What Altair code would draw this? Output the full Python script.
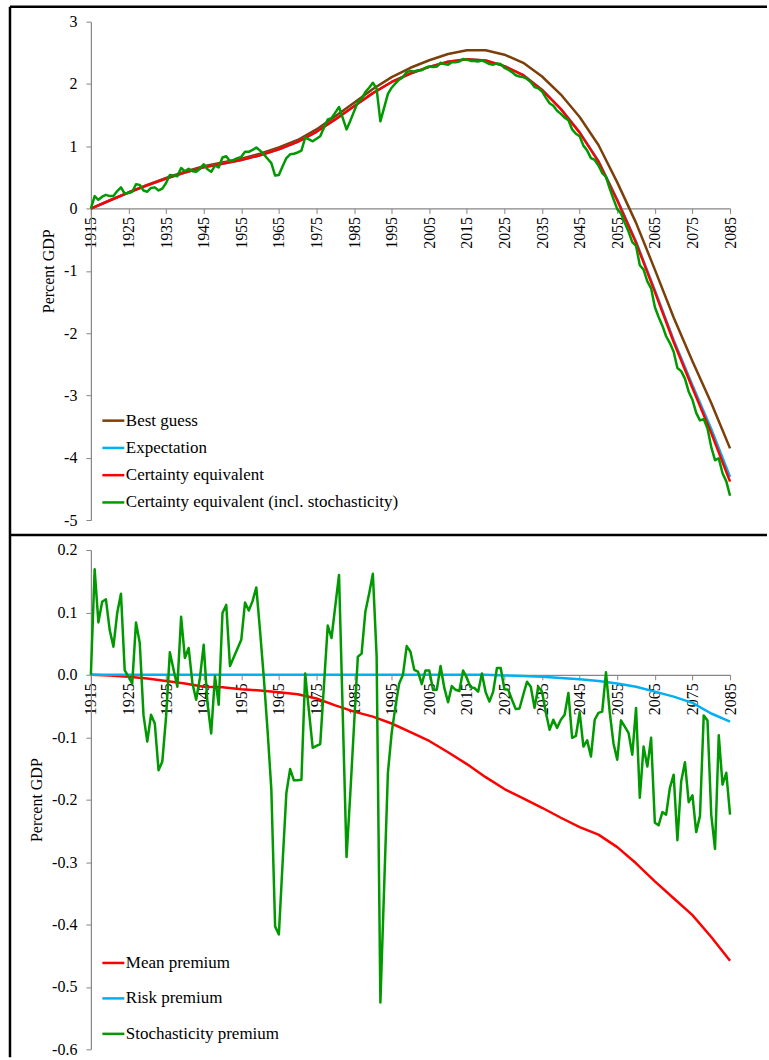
import altair as alt
import pandas as pd

FONT = "Liberation Serif"

years5 = list(range(1915, 2086, 5))
years1 = list(range(1915, 2086))

# ---------- top panel (Percent GDP) ----------
best_guess = [0.00, 0.13, 0.26, 0.38, 0.49, 0.59, 0.68, 0.74, 0.80, 0.88, 0.98, 1.10,
              1.27, 1.48, 1.70, 1.92, 2.11, 2.26, 2.38, 2.48, 2.54, 2.54, 2.47, 2.34,
              2.12, 1.83, 1.47, 1.02, 0.42, -0.23, -0.98, -1.75, -2.45, -3.12, -3.85]
expectation = [0.000, 0.129, 0.257, 0.374, 0.480, 0.576, 0.661, 0.720, 0.777, 0.855, 0.952,
               1.069, 1.232, 1.431, 1.641, 1.853, 2.032, 2.168, 2.274, 2.356, 2.397, 2.376,
               2.287, 2.142, 1.907, 1.601, 1.226, 0.764, 0.144, -0.532, -1.311, -2.108,
               -2.835, -3.540, -4.308]
certainty_eq = [0.000, 0.129, 0.257, 0.374, 0.480, 0.576, 0.661, 0.720, 0.777, 0.855, 0.952,
                1.069, 1.232, 1.431, 1.641, 1.853, 2.032, 2.168, 2.274, 2.356, 2.397, 2.376,
                2.286, 2.140, 1.904, 1.596, 1.219, 0.754, 0.130, -0.551, -1.338, -2.143,
                -2.880, -3.602, -4.383]
ce_stoch = [
    0.00, 0.20, 0.14, 0.19, 0.22, 0.20, 0.20, 0.28, 0.34, 0.24,
    0.25, 0.27, 0.39, 0.38, 0.29, 0.27, 0.33, 0.34, 0.29, 0.32,
    0.41, 0.54, 0.53, 0.52, 0.65, 0.60, 0.64, 0.60, 0.59, 0.64,
    0.71, 0.63, 0.59, 0.69, 0.66, 0.82, 0.84, 0.76, 0.78, 0.81,
    0.83, 0.91, 0.91, 0.94, 0.98, 0.93, 0.87, 0.80, 0.73, 0.53,
    0.54, 0.68, 0.81, 0.87, 0.88, 0.90, 0.93, 1.14, 1.11, 1.08,
    1.12, 1.16, 1.30, 1.43, 1.45, 1.54, 1.63, 1.45, 1.27, 1.41,
    1.56, 1.71, 1.76, 1.87, 1.94, 2.02, 1.92, 1.40, 1.62, 1.84,
    1.94, 2.01, 2.07, 2.11, 2.19, 2.21, 2.20, 2.22, 2.22, 2.26,
    2.28, 2.27, 2.28, 2.34, 2.32, 2.31, 2.35, 2.35, 2.36, 2.40,
    2.39, 2.37, 2.37, 2.36, 2.38, 2.35, 2.32, 2.31, 2.33, 2.32,
    2.26, 2.23, 2.19, 2.14, 2.12, 2.11, 2.08, 2.03, 1.95, 1.93,
    1.88, 1.78, 1.69, 1.65, 1.57, 1.52, 1.46, 1.42, 1.27, 1.20,
    1.16, 1.01, 0.93, 0.81, 0.78, 0.69, 0.57, 0.51, 0.32, 0.15,
    -0.01, -0.08, -0.23, -0.37, -0.54, -0.60, -0.91, -0.98, -1.17, -1.28,
    -1.58, -1.74, -1.88, -2.05, -2.16, -2.30, -2.56, -2.61, -2.73, -2.94,
    -3.07, -3.28, -3.40, -3.38, -3.53, -3.83, -4.04, -4.01, -4.25, -4.38,
    -4.61]

# ---------- bottom panel (premiums) ----------
mean_premium = [0.000, -0.001, -0.003, -0.006, -0.010, -0.014, -0.019, -0.020, -0.023, -0.025,
                -0.028, -0.031, -0.038, -0.049, -0.059, -0.067, -0.078, -0.092, -0.106, -0.124,
                -0.143, -0.164, -0.183, -0.198, -0.213, -0.229, -0.244, -0.256, -0.276, -0.302,
                -0.331, -0.358, -0.385, -0.420, -0.458]
risk_premium = [0.0] * 22 + [-0.001, -0.002, -0.003, -0.005, -0.007, -0.010, -0.014, -0.019,
                             -0.027, -0.035, -0.045, -0.062, -0.075]
stoch_premium = [
    0.000, 0.169, 0.084, 0.117, 0.121, 0.072, 0.045, 0.099, 0.130, 0.007,
    -0.003, -0.014, 0.084, 0.051, -0.065, -0.107, -0.064, -0.078, -0.153, -0.139,
    -0.067, 0.036, 0.008, -0.019, 0.093, 0.027, 0.043, -0.013, -0.040, -0.005,
    0.048, -0.045, -0.094, -0.002, -0.048, 0.099, 0.112, 0.014, 0.028, 0.042,
    0.056, 0.116, 0.103, 0.118, 0.140, 0.070, -0.005, -0.090, -0.184, -0.403,
    -0.416, -0.300, -0.189, -0.151, -0.169, -0.169, -0.168, 0.002, -0.058, -0.117,
    -0.114, -0.111, -0.016, 0.079, 0.059, 0.110, 0.160, -0.065, -0.292, -0.190,
    -0.080, 0.029, 0.034, 0.101, 0.130, 0.162, 0.030, -0.525, -0.340, -0.157,
    -0.093, -0.051, -0.014, 0.000, 0.046, 0.037, 0.008, 0.005, -0.015, 0.007,
    0.007, -0.024, -0.024, 0.014, -0.021, -0.044, -0.018, -0.024, -0.026, 0.007,
    -0.005, -0.020, -0.021, -0.027, 0.002, -0.028, -0.043, -0.027, 0.011, 0.011,
    -0.023, -0.024, -0.040, -0.055, -0.054, -0.032, -0.011, -0.019, -0.053, -0.019,
    -0.027, -0.060, -0.088, -0.072, -0.085, -0.072, -0.064, -0.029, -0.101, -0.098,
    -0.060, -0.115, -0.105, -0.131, -0.072, -0.061, -0.059, 0.004, -0.060, -0.110,
    -0.136, -0.073, -0.083, -0.093, -0.128, -0.053, -0.197, -0.115, -0.147, -0.101,
    -0.237, -0.241, -0.220, -0.224, -0.181, -0.160, -0.265, -0.171, -0.140, -0.204,
    -0.193, -0.252, -0.226, -0.065, -0.073, -0.224, -0.279, -0.097, -0.176, -0.157,
    -0.224]

top_series = ["Best guess", "Expectation", "Certainty equivalent",
              "Certainty equivalent (incl. stochasticity)"]
top_colors = ["#7B3F0A", "#00B0F0", "#FF0000", "#009900"]
bot_series = ["Mean premium", "Risk premium", "Stochasticity premium"]
bot_colors = ["#FF0000", "#00B0F0", "#009900"]

x_ticks = list(range(1915, 2086, 10))
top_ticks = [3, 2, 1, 0, -1, -2, -3, -4, -5]
bot_ticks = [0.2, 0.1, 0.0, -0.1, -0.2, -0.3, -0.4, -0.5, -0.6]


def long(series_names, xs_list, vals_list):
    frames = []
    for name, xs, vals in zip(series_names, xs_list, vals_list):
        frames.append(pd.DataFrame({"Year": xs, "Value": vals, "Series": name}))
    return pd.concat(frames, ignore_index=True)


top_df = long(top_series, [years5, years5, years5, years1],
              [best_guess, expectation, certainty_eq, ce_stoch])
bot_df = long(bot_series, [years5, years5, years1],
              [mean_premium, risk_premium, stoch_premium])

GREY = "#868686"


def panel(df, series, colors, ydom, yticks, fmt, height, x_offset, leg_y, row_pad, frame):
    color = alt.Color(
        "Series:N",
        scale=alt.Scale(domain=series, range=colors),
        sort=series,
        legend=alt.Legend(
            title=None, orient="none", legendX=10, legendY=leg_y,
            symbolType="stroke", symbolSize=484, symbolStrokeWidth=2.5,
            labelFont=FONT, labelFontSize=17, labelColor="#000000",
            labelOffset=0, rowPadding=row_pad, labelLimit=500,
        ),
    )
    x = alt.X(
        "Year:Q",
        scale=alt.Scale(domain=[1915, 2085], nice=False, zero=False),
        axis=alt.Axis(
            values=x_ticks, format="d", labelAngle=-90, offset=x_offset,
            tickSize=5, domainColor=GREY, tickColor=GREY, domainWidth=1.2,
            labelFont=FONT, labelFontSize=16, labelColor="#000000",
            labelPadding=3, labelOverlap=False, grid=False, title=None,
        ),
    )
    y = alt.Y(
        "Value:Q",
        scale=alt.Scale(domain=ydom, nice=False, zero=False),
        axis=alt.Axis(
            values=yticks,
            labelExpr="replace(format(datum.value, '%s'), '\u2212', '-')" % fmt,
            tickSize=5, domainColor=GREY, tickColor=GREY, domainWidth=1.2,
            labelFont=FONT, labelFontSize=16, labelColor="#000000",
            labelPadding=9, labelOverlap=False, grid=False,
            title="Percent GDP", titleFont=FONT, titleFontSize=16,
            titleFontWeight="normal", titleColor="#000000", titlePadding=7,
        ),
    )
    layers = []
    for s in series:
        layers.append(
            alt.Chart(df)
            .transform_filter(alt.datum.Series == s)
            .mark_line(strokeWidth=2.5, strokeJoin="round")
            .encode(x=x, y=y, color=color)
        )
    dummy = pd.DataFrame({"k": [0]})
    for (x1, x2, y1, y2) in frame:
        layers.append(
            alt.Chart(dummy).mark_rule(color="black", strokeWidth=2.5).encode(
                x=alt.value(x1), x2=alt.value(x2), y=alt.value(y1), y2=alt.value(y2)
            )
        )
    return alt.layer(*layers).properties(width=640, height=height)


top = panel(top_df, top_series, top_colors, [-5, 3], top_ticks, "d", 499, -312, 387, 6.3,
            [(-81, 677, -15, -15), (-81, -81, -15, 514), (-81, 677, 514, 514)])
bottom = panel(bot_df, bot_series, bot_colors, [-0.6, 0.2], bot_ticks, ".1f", 500, -375, 401, 14.5,
               [(-81, -81, -15, 508)])

chart = (
    alt.vconcat(top, bottom, spacing=30, bounds="flush")
    .resolve_scale(color="independent")
    .resolve_legend(color="independent")
    .properties(padding={"left": 8, "top": 4, "right": 0, "bottom": 0}, background="white")
    .configure_view(stroke=None)
)

chart.save("out.html", embed_options={"renderer": "svg", "actions": False})
